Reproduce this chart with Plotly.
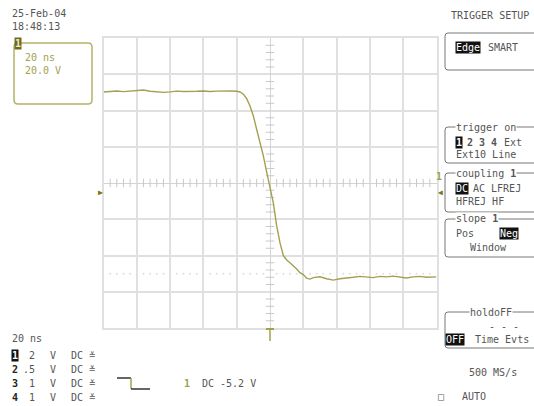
import plotly.graph_objects as go
import numpy as np

W, H = 534, 406

# ---- data (time in ns, channel 1 in V relative to offset) ----
time_ns = [-100, -96, -92, -88, -84, -80, -76, -72, -68, -64, -60, -56, -52, -48,
           -44, -40, -36, -32, -28, -24, -20, -18, -16, -14, -12, -10, -8, -6, -4,
           -2, 0, 2, 4, 6, 8, 10, 12, 14, 16, 18, 20, 22, 24, 26, 28, 30, 34, 38,
           42, 46, 50, 54, 58, 62, 66, 70, 74, 78, 82, 86, 90, 94, 98, 100]
ch1_volts = [5.02, 5.05, 5.08, 5.04, 5.06, 5.10, 5.13, 5.06, 5.04, 5.00, 5.03,
             5.07, 5.05, 5.04, 5.06, 5.08, 5.05, 5.07, 5.09, 5.08, 5.06, 5.02,
             4.90, 4.65, 4.25, 3.70, 2.95, 2.30, 1.50, 0.60, -0.25, -1.10, -2.35,
             -3.30, -4.00, -4.25, -4.40, -4.55, -4.75, -4.95, -5.05, -5.25, -5.30,
             -5.22, -5.18, -5.17, -5.28, -5.36, -5.28, -5.22, -5.20, -5.15, -5.18,
             -5.22, -5.15, -5.18, -5.14, -5.20, -5.24, -5.18, -5.15, -5.20, -5.17,
             -5.18]
x_range = [-100, 100]   # 10 div x 20 ns
y_range = [-8, 8]       # 8 div x 2 V
ref_level = -5.0

OLIVE = "#a3a050"
GRID = "#e0e0e0"
TXT = "#555555"
FONT = "DejaVu Sans Mono"


def px(x):
    return x / W


def py(y):
    return 1 - y / H


fig = go.Figure()

# center minor ticks
mt = [t for t in np.arange(-100, 101, 4) if t % 20 != 0]
mv = [v for v in np.round(np.arange(-8, 8.01, 0.4), 2) if abs(v % 2) > 1e-6 and abs(v % 2 - 2) > 1e-6]
fig.add_trace(go.Scatter(x=mt, y=[0] * len(mt), mode="markers",
                         marker=dict(symbol="line-ns", size=6, line=dict(width=1, color="#c8c8c8")),
                         hoverinfo="skip", showlegend=False))
fig.add_trace(go.Scatter(x=[0] * len(mv), y=mv, mode="markers",
                         marker=dict(symbol="line-ew", size=6, line=dict(width=1, color="#c8c8c8")),
                         hoverinfo="skip", showlegend=False))
# dotted reference line
fig.add_trace(go.Scatter(x=mt, y=[ref_level] * len(mt), mode="markers",
                         marker=dict(symbol="circle", size=2, color="#dedede"),
                         hoverinfo="skip", showlegend=False))

# the waveform
fig.add_trace(go.Scatter(x=time_ns, y=ch1_volts, mode="lines",
                         line=dict(color=OLIVE, width=1.4),
                         hoverinfo="skip", showlegend=False))

fig.update_layout(
    width=W, height=H, margin=dict(l=0, r=0, t=0, b=0),
    paper_bgcolor="white", plot_bgcolor="white", showlegend=False,
    xaxis=dict(domain=[103.5 / W, 436.5 / W], range=x_range, dtick=20, tick0=-100,
               showgrid=True, gridcolor=GRID, gridwidth=1.5, zeroline=True,
               zerolinecolor="#d4d4d4", zerolinewidth=1,
               showline=True, linecolor=GRID, linewidth=1.5, mirror=True,
               showticklabels=False, ticks="", fixedrange=True),
    yaxis=dict(domain=[py(328), py(38)], range=y_range, dtick=2, tick0=-8,
               showgrid=True, gridcolor=GRID, gridwidth=1.5, zeroline=True,
               zerolinecolor="#d4d4d4", zerolinewidth=1,
               showline=True, linecolor=GRID, linewidth=1.5, mirror=True,
               showticklabels=False, ticks="", fixedrange=True),
)

ann = []
shapes = []


def text(x, y, s, color=TXT, size=10, xanchor="left", bg=None, pad=0, bold=False):
    if bold:
        s = "<b>" + s + "</b>"
    d = dict(x=px(x), y=py(y), xref="paper", yref="paper", text=s, showarrow=False,
             xanchor=xanchor, yanchor="middle", font=dict(family=FONT, size=size, color=color),
             borderpad=pad)
    if bg:
        d["bgcolor"] = bg
    ann.append(d)


def rrect(x0, y0, x1, y1, color="#777777", width=1, r=3):
    X0, X1 = px(x0), px(x1)
    Y0, Y1 = py(y0), py(y1)
    rx, ry = r / W, r / H
    path = (f"M{X0 + rx},{Y0} L{X1 - rx},{Y0} Q{X1},{Y0} {X1},{Y0 - ry} "
            f"L{X1},{Y1 + ry} Q{X1},{Y1} {X1 - rx},{Y1} L{X0 + rx},{Y1} "
            f"Q{X0},{Y1} {X0},{Y1 + ry} L{X0},{Y0 - ry} Q{X0},{Y0} {X0 + rx},{Y0} Z")
    shapes.append(dict(type="path", path=path, xref="paper", yref="paper",
                       line=dict(color=color, width=width)))


def seg(x0, y0, x1, y1, color=OLIVE, width=1.5):
    shapes.append(dict(type="line", x0=px(x0), y0=py(y0), x1=px(x1), y1=py(y1),
                       xref="paper", yref="paper", line=dict(color=color, width=width)))


# top-left
text(11, 14, "25-Feb-04")
text(11, 26, "18:48:13")
rrect(14, 43, 92, 104, color="#b4b26a", width=1.5, r=4)
text(14, 43, "1", color="#eeeccc", size=10, bg="#6e6a1e", bold=True)
text(24, 58, "20 ns", color=OLIVE)
text(24, 71, "20.0 V", color=OLIVE)

# right panel
text(450, 16, "TRIGGER SETUP")
rrect(445, 33, 545, 70)
text(455, 48, "Edge", color="white", bg="#111111")
text(487, 48, "SMART")

rrect(445, 127, 545, 163)
text(455, 127, "trigger on", bg="white")
text(455, 142, "1", color="white", bg="#111111", bold=True)
text(466, 142, "2 3 4", bold=True)
text(503, 142, "Ext")
text(455, 155, "Ext10 Line")

rrect(445, 173, 545, 212)
text(455, 173, "coupling <b>1</b>", bg="white")
text(455, 188, "DC", color="white", bg="#111111")
text(472, 188, "AC LFREJ")
text(455, 201, "HFREJ HF")

rrect(445, 219, 545, 257)
text(455, 219, "slope <b>1</b>", bg="white")
text(455, 234, "Pos")
text(499, 234, "Neg", color="white", bg="#111111")
text(469, 247, "Window")

rrect(445, 312, 545, 348)
text(469, 312, "holdoFF", bg="white")
text(488, 326, "- - -")
text(445, 339, "OFF", color="white", bg="#111111")
text(474, 339, "Time Evts")

text(468, 372, "500 MS/s")
text(437, 396, "□")
text(461, 396, "AUTO")

# bottom-left
text(11, 338, "20 ns")
rows = [("1", "2"), ("2", ".5"), ("3", "1"), ("4", "1")]
ys = [355, 369, 383, 397]
for (ch, vd), yy in zip(rows, ys):
    if ch == "1":
        text(11, yy, ch, color="white", bg="#111111", bold=True)
    else:
        text(11, yy, ch, color="#222222", bold=True)
    text(22, yy, vd.rjust(2))
    text(49, yy, "V")
    text(70, yy, "DC")
    text(88, yy, "≚")

# trigger slope symbol
seg(117, 378, 131, 378, color="#333333", width=1.5)
seg(131, 378, 131, 389, color=OLIVE, width=1.5)
seg(131, 389, 150, 389, color="#333333", width=1.5)
text(183, 383, "1", color=OLIVE, bold=True)
text(201, 383, "DC -5.2 V")

# markers on grid
text(100, 192, "▶", color="#7a7620", size=8, xanchor="center")
text(439, 176, "1", color=OLIVE, bold=True, xanchor="center")
text(440, 192, "◀", color="#7a7620", size=8, xanchor="center")
seg(270, 329, 270, 341, color=OLIVE, width=1.5)
seg(266, 329, 274, 329, color=OLIVE, width=2)

fig.update_layout(annotations=ann, shapes=shapes)
fig.write_html("out.html", config={"displayModeBar": False},
               post_script="document.body.style.margin='0';document.body.style.overflow='hidden';")
